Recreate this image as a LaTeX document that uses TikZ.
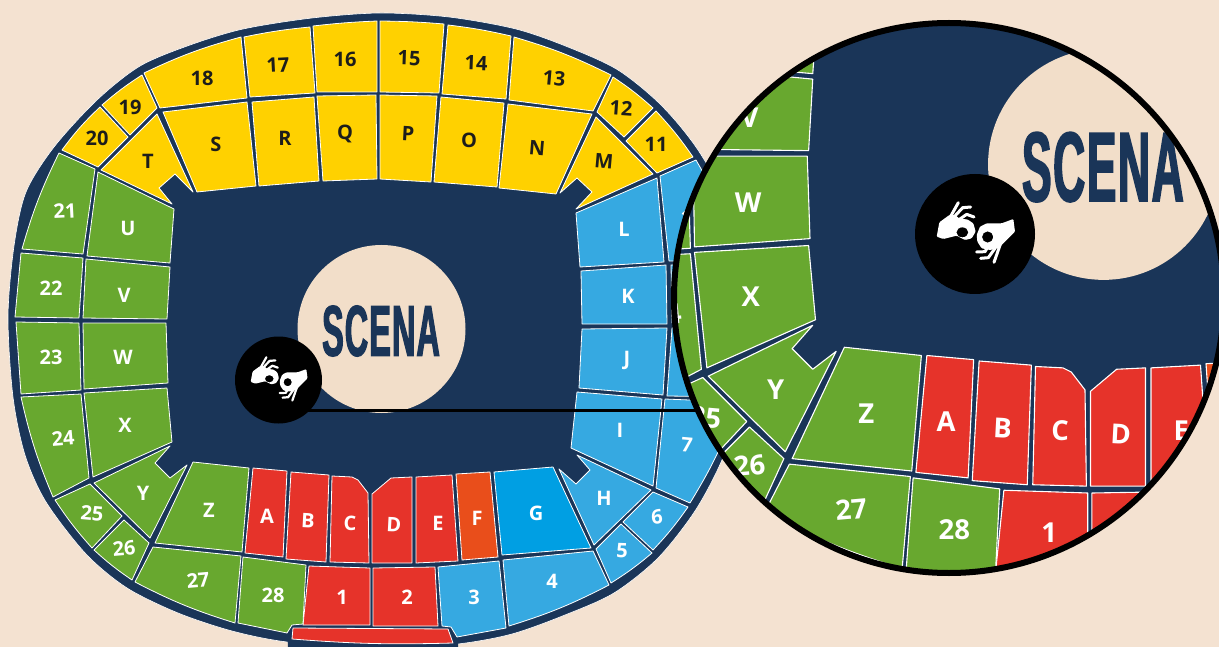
\documentclass[tikz,border=0pt]{standalone}
\usepackage{fontspec}
\usepackage{xcolor}
\usetikzlibrary{positioning,calc}

\newfontfamily\seatfont{Open Sans}
\newfontfamily\scenafont{Liberation Sans}[FakeStretch=0.45,FakeBold=1.5,LetterSpace=1.5]

\definecolor{paper}{HTML}{F4E2D1}
\definecolor{stagecream}{HTML}{F2DEC9}
\definecolor{navy}{HTML}{1A3558}
\definecolor{seatgreen}{HTML}{68A82F}
\definecolor{seatyellow}{HTML}{FFD100}
\definecolor{seatblue}{HTML}{36A9E1}
\definecolor{seatcyan}{HTML}{009FE3}
\definecolor{seatred}{HTML}{E6332A}
\definecolor{seatorange}{HTML}{E94E1B}
\definecolor{darktext}{HTML}{1D1D1B}

\newcommand{\seatmap}{%
    % Outer ring and field
    \draw[white, line width=0.6pt, fill=navy] plot[smooth cycle] coordinates {
        (380,13) (449,17) (516,29) (568,47) (618,70) (662,106) (700,153) (738,225) (754,310) (745,395)
        (722,460) (695,511) (658,558) (614,593) (565,615) (512,634) (458,644) (380,650) (287,642) (232,631)
        (178,613) (127,588) (86,554) (46,502) (25,455) (13,397) (8,317) (14,246) (26,192) (54,147) (97,100)
        (140,66) (190,45) (243,29) (312,18)};
    \fill[navy] (287,628) -- (458,628) -- (458,647) -- (288,647) -- cycle;
    \node[circle, fill=stagecream, minimum size=168pt, inner sep=0pt] (stagecircle) at (381.5,329) {};
    \node[scenalabel] (scena) at (381,331) {SCENA};

    % Yellow stand
    \draw[yellowseat] (62,150) to[bend left=5] (100,107) -- (128,137) -- (98,167) -- cycle;
    \draw[yellowseat] (102,105) to[bend left=4] (142,75) -- (157,108) -- (130,135) -- cycle;
    \draw[yellowseat] (144,73) to[bend left=5] (241,37) -- (247,98) -- (160,108) -- cycle;
    \draw[yellowseat] (244,37) to[bend left=3] (310,27) -- (315,93) -- (250,97) -- cycle;
    \draw[yellowseat] (313,26) to[bend left=2] (377,21) -- (377,92) -- (317,92) -- cycle;
    \draw[yellowseat] (380,21) to[bend left=2] (444,24) -- (439,93) -- (380,92) -- cycle;
    \draw[yellowseat] (448,25) to[bend left=3] (511,36) -- (506,99) -- (442,94) -- cycle;
    \draw[yellowseat] (514,37) to[bend left=5] (611,75) -- (593,111) -- (509,100) -- cycle;
    \draw[yellowseat] (613,77) to[bend left=4] (653,108) -- (624,137) -- (597,112) -- cycle;
    \draw[yellowseat] (656,111) to[bend left=4] (693,157) -- (657,173) -- (626,141) -- cycle;
    \draw[yellowseat] (157,114) -- (193,192) -- (175,174) -- (159,188) -- (172,204) -- (101,170) -- cycle;
    \draw[yellowseat] (163,112) -- (247,102) -- (256,186) -- (197,192) -- cycle;
    \draw[yellowseat] (252,102) -- (314,97) -- (319,181) -- (259,186) -- cycle;
    \draw[yellowseat] (317,96) -- (376,95) -- (377,179) -- (323,181) -- cycle;
    \draw[yellowseat] (380,95) -- (437,96) -- (431,182) -- (380,179) -- cycle;
    \draw[yellowseat] (441,97) -- (504,103) -- (497,187) -- (434,182) -- cycle;
    \draw[yellowseat] (508,104) -- (592,114) -- (556,194) -- (499,188) -- cycle;
    \draw[yellowseat] (596,117) -- (653,174) -- (576,209) -- (592,192) -- (577,178) -- (560,193) -- cycle;

    % Blue stand
    \draw[blueseat] (657,178) -- (664,262) -- (580,267) -- (576,213) -- cycle;
    \draw[blueseat] (660,176) -- (696,160) -- (730,220) -- (745,262) -- (669,261) -- cycle;
    \draw[blueseat] (581,271) -- (666,265) -- (667,324) -- (582,324) -- cycle;
    \draw[blueseat] (671,265) -- (745,265) -- (746,323) -- (672,323) -- cycle;
    \draw[blueseat] (582,329) -- (667,328) -- (663,395) -- (579,388) -- cycle;
    \draw[blueseat] (672,328) -- (746,328) -- (740,397) -- (667,396) -- cycle;
    \draw[blueseat] (577,392) -- (662,399) -- (653,486) -- (571,448) -- cycle;
    \draw[blueseat] (665,399) -- (738,402) to[bend left=6] (690,503) -- (656,488) -- cycle;
    \draw[blueseat] (559,469) -- (576,484) -- (590,470) -- (577,455) -- (651,490) -- (594,545) -- cycle;
    \draw[blueseat] (653,492) -- (688,507) to[bend left=4] (653,550) -- (623,522) -- cycle;
    \draw[blueseat] (621,524) -- (652,553) to[bend left=4] (611,583) -- (596,549) -- cycle;
    \draw[blueseat] (503,560) -- (593,551) -- (609,585) to[bend left=5] (509,626) -- cycle;
    \draw[blueseat] (438,567) -- (499,561) -- (506,628) -- (457,637) -- (451,627) -- (442,626) -- cycle;
    \draw[seatbase, fill=seatcyan] (494,472) -- (553,467) -- (591,548) -- (502,555) -- cycle;

    % Red stand
    \draw[seatbase, fill=seatorange] (456,474) -- (490,472) -- (498,557) -- (462,560) -- cycle;
    \draw[redseat] (416,477) -- (452,475) -- (458,561) -- (416,563) -- cycle;
    \draw[redseat] (372,494) -- (391,478) -- (412,477) -- (412,563) -- (372,563) -- cycle;
    \draw[redseat] (332,476) -- (352,477) -- (358,480) -- (368,493) -- (369,563) -- (330,562) -- cycle;
    \draw[redseat] (291,472) -- (329,475) -- (326,562) -- (286,559) -- cycle;
    \draw[redseat] (253,468) -- (287,471) -- (283,557) -- (245,553) -- cycle;
    \draw[redseat] (309,566) -- (370,568) -- (370,625) -- (303,625) -- cycle;
    \draw[redseat] (373,568) -- (435,567) -- (438,626) -- (373,626) -- cycle;
    \draw[redseat] (293,628) -- (448,629) -- (453,643) to[bend left=3] (292,639) -- cycle;

    % Green stand
    \draw[greenseat] (193,462) -- (249,468) -- (242,552) -- (155,543) -- cycle;
    \draw[greenseat] (170,446) -- (155,463) -- (170,478) -- (187,465) -- (150,538) -- (94,483) -- cycle;
    \draw[greenseat] (84,393) -- (167,388) -- (172,442) -- (93,477) -- cycle;
    \draw[greenseat] (21,397) -- (81,394) -- (89,478) -- (53,497) to[bend left=5] cycle;
    \draw[greenseat] (83,323) -- (166,323) -- (168,383) -- (84,389) -- cycle;
    \draw[greenseat] (16,322) -- (79,323) -- (81,390) -- (21,394) -- cycle;
    \draw[greenseat] (86,259) -- (170,267) -- (167,319) -- (83,318) -- cycle;
    \draw[greenseat] (21,253) -- (83,258) -- (79,318) -- (15,317) -- cycle;
    \draw[greenseat] (98,172) -- (174,209) -- (170,263) -- (87,256) -- cycle;
    \draw[greenseat] (59,153) -- (95,169) -- (83,254) -- (22,249) to[bend left=5] cycle;
    \draw[greenseat] (55,500) -- (90,484) -- (122,516) -- (92,548) to[bend left=4] cycle;
    \draw[greenseat] (94,550) -- (124,520) -- (149,543) -- (132,580) to[bend left=4] cycle;
    \draw[greenseat] (153,547) -- (241,556) -- (235,623) to[bend left=5] (135,582) -- cycle;
    \draw[greenseat] (243,557) -- (306,565) -- (303,624) -- (292,625) -- (287,633) -- (238,623) -- cycle;
}

% Labels seen in the full map and again through the lens
\newcommand{\lenslabels}{%
    \foreach \name/\px/\py/\tilt in {V/124/295/0, W/123/357/0, 24/63/438/5, X/125/425/0, 25/92/513/-5,
        Y/143/493/0, 26/124/548/5, Z/209/510/0, 27/198/580/5, 28/273/595/0, A/267/516/0, B/308/521/-3,
        C/350/523/0, D/394/525/-3, E/438/523/0, 1/342/597/0}
        \node[lightlabel, rotate=\tilt] (label\name) at (\px,\py) {\name};
}

% Two signing hands, #1 is the finger width
\newcommand{\handsign}[1]{%
    \fill[white, even odd rule, rounded corners=1pt]
        (28,82) -- (20,125) -- (40,132) -- (80,122) -- (105,135) -- (125,130) -- (137,110) -- (130,85)
        -- (112,73) -- (90,72) -- (75,60) -- (58,60) -- cycle
        (97,112) ellipse [x radius=18, y radius=15];
    \draw[white, line width=#1, line cap=round, line join=round] (62,64) -- (85,23);
    \draw[white, line width=#1, line cap=round, line join=round] (72,66) -- (98,38) -- (122,36);
    \draw[white, line width=#1, line cap=round, line join=round] (90,72) -- (110,58) -- (132,66);
    \fill[white, even odd rule, rounded corners=1pt]
        (250,72) -- (255,110) -- (240,125) -- (225,140) -- (205,160) -- (180,165) -- (155,160)
        -- (142,140) -- (140,120) -- (150,95) -- (170,85) -- (215,85) -- cycle
        (173,126) circle [radius=17];
    \draw[white, line width=#1, line cap=round, line join=round] (212,145) -- (192,202);
    \draw[white, line width=#1, line cap=round, line join=round] (195,160) -- (175,188) -- (152,190);
    \draw[white, line width=#1, line cap=round, line join=round] (172,158) -- (165,170) -- (140,171);
}

\begin{document}
\begin{tikzpicture}[
        x=1pt, y=-1pt,
        seatbase/.style={draw=white, line width=0.8pt, line join=round},
        yellowseat/.style={seatbase, fill=seatyellow},
        blueseat/.style={seatbase, fill=seatblue},
        redseat/.style={seatbase, fill=seatred},
        greenseat/.style={seatbase, fill=seatgreen},
        darklabel/.style={text=darktext, inner sep=0pt, font=\seatfont\bfseries\fontsize{20}{20}\selectfont},
        lightlabel/.style={text=white, inner sep=0pt, font=\seatfont\bfseries\fontsize{20}{20}\selectfont},
        scenalabel/.style={text=navy, inner sep=0pt, font=\scenafont\bfseries\fontsize{72}{72}\selectfont},
        handdisc/.style={circle, fill=black, inner sep=0pt}
    ]
    \useasboundingbox (0,0) rectangle (1219,647);
    \fill[paper] (0,0) rectangle (1219,647);

    % Full map
    \seatmap
    \lenslabels
    \foreach \name/\px/\py/\tilt in {18/202/78/0, 17/278/65/3, 16/345/59/0, 15/409/58/-2, 14/476/63/-2,
        13/554/78/-5, 12/621/108/-4, 11/656/144/0, 20/97/138/0, 19/130/107/0, T/148/161/0, S/216/144/0,
        R/285/138/0, Q/345/134/0, P/408/134/-3, O/469/140/0, N/537/148/-5, M/604/161/-5}
        \node[darklabel, rotate=\tilt] (label\name) at (\px,\py) {\name};
    \foreach \name/\px/\py/\tilt in {21/65/211/3, U/128/228/0, 22/51/288/0, 23/51/357/0, F/477/518/0,
        G/536/513/0, H/604/498/0, I/620/430/0, J/627/360/0, K/628/296/0, L/624/229/0, 2/407/597/0,
        3/474/597/0, 4/552/581/0, 5/622/551/-2, 6/657/517/5, 7/687/445/-5, 10/692/217/0}
        \node[lightlabel, rotate=\tilt] (label\name) at (\px,\py) {\name};

    % Sign language point and its leader
    \coordinate (leaderstart) at (300,410);
    \coordinate (leaderend) at (700,410);
    \draw[black, line width=3pt] (leaderstart) -- (leaderend);
    \node[handdisc, minimum size=87pt] (handsmall) at (278.5,380) {};
    \begin{scope}[shift={(handsmall.center)}, scale=0.242, shift={(-135,-117)}]
        \handsign{2.2pt}
    \end{scope}

    % Magnifying lens
    \begin{scope}
        \clip (949,298) circle [radius=275pt];
        \fill[paper] (949,298) circle [radius=275pt];
        \begin{scope}[transform canvas={xshift=579pt, yshift=288pt, scale=1.375}]
            \seatmap
            \lenslabels
        \end{scope}
        \node[handdisc, minimum size=120pt] (handbig) at (975,234) {};
        \begin{scope}[shift={(handbig.center)}, scale=0.3333, shift={(-135,-117)}]
            \handsign{3pt}
        \end{scope}
    \end{scope}
    \node[circle, draw=black, line width=6pt, minimum size=550pt, inner sep=0pt, outer sep=0pt] (lens) at (949,298) {};

\end{tikzpicture}
\end{document}
